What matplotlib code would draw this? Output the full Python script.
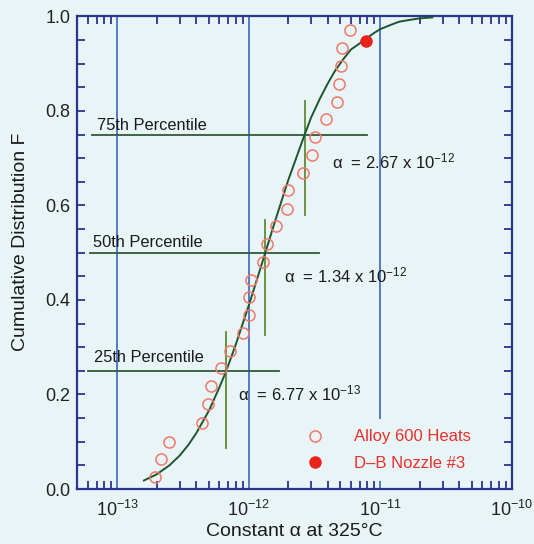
import numpy as np
import matplotlib
matplotlib.use("Agg")
import matplotlib.pyplot as plt
from matplotlib.ticker import FixedLocator, LogLocator, LogFormatterSciNotation, NullFormatter

plt.rcParams["font.family"] = ["Liberation Sans", "DejaVu Sans"]
plt.rcParams["mathtext.fontset"] = "custom"
plt.rcParams["mathtext.rm"] = "Liberation Sans"
plt.rcParams["mathtext.it"] = "Liberation Sans:italic"
plt.rcParams["mathtext.bf"] = "Liberation Sans:bold"

# Alloy 600 heats: constant alpha and cumulative rank
heat_alpha = [1.94e-13, 2.17e-13, 2.50e-13, 4.43e-13, 4.90e-13, 5.20e-13, 6.20e-13,
              7.20e-13, 9.10e-13, 1.01e-12, 1.00e-12, 1.04e-12, 1.29e-12, 1.37e-12,
              1.63e-12, 1.95e-12, 2.00e-12, 2.60e-12, 3.04e-12, 3.20e-12, 3.90e-12,
              4.70e-12, 4.89e-12, 5.02e-12, 5.12e-12, 5.95e-12]
heat_F = [0.025, 0.063, 0.100, 0.140, 0.179, 0.218, 0.256, 0.292, 0.330, 0.368,
          0.406, 0.442, 0.480, 0.518, 0.556, 0.593, 0.632, 0.668, 0.706, 0.744,
          0.782, 0.819, 0.857, 0.895, 0.934, 0.972]

# D-B nozzle #3
nozzle_alpha = [7.79e-12]
nozzle_F = [0.949]

# Fitted cumulative distribution curve
fit_alpha = [1.6e-13, 2.0e-13, 2.5e-13, 3.0e-13, 3.5e-13, 4.0e-13, 5.0e-13, 6.0e-13,
             6.77e-13, 8.0e-13, 1.0e-12, 1.2e-12, 1.34e-12, 1.6e-12, 2.0e-12, 2.67e-12,
             3.0e-12, 3.5e-12, 4.0e-12, 4.5e-12, 5.2e-12, 6.0e-12, 7.0e-12, 8.0e-12,
             9.0e-12, 1.0e-11, 1.2e-11, 1.4e-11, 1.7e-11, 2.0e-11, 2.5e-11]
fit_F = [0.018, 0.031, 0.050, 0.071, 0.094, 0.118, 0.166, 0.215, 0.250, 0.306,
         0.387, 0.457, 0.500, 0.569, 0.653, 0.750, 0.787, 0.827, 0.858, 0.883,
         0.908, 0.930, 0.943, 0.955, 0.965, 0.973, 0.982, 0.989, 0.993, 0.996, 0.998]

# Percentiles of the fitted distribution
pct_levels = [0.25, 0.50, 0.75]
pct_alpha = [6.77e-13, 1.34e-12, 2.67e-12]
pct_names = ["25th Percentile", "50th Percentile", "75th Percentile"]
pct_alpha_text = ["\u03b1  = 6.77 x 10$^{-13}$",
                  "\u03b1  = 1.34 x 10$^{-12}$",
                  "\u03b1  = 2.67 x 10$^{-12}$"]

bg = "#e9f4f7"
navy = "#2a3590"
grid_blue = "#3a64c0"
green_h = "#2f5a38"
green_v = "#5f8a35"
open_red = "#f07868"
solid_red = "#e8231c"

fig = plt.figure(figsize=(5.34, 5.44), dpi=100, facecolor=bg)
ax = fig.add_axes([0.1451, 0.1011, 0.8128, 0.8686], facecolor=bg)

ax.set_xscale("log")
ax.set_xlim(5e-14, 1e-10)
ax.set_ylim(0, 1.0)

# decade grid lines
for d in [1e-13, 1e-12, 1e-11]:
    ax.axvline(d, color=grid_blue, lw=1.2, zorder=1)

# percentile cross-hairs
h_start = [6.0e-14, 6.25e-14, 6.45e-14]
h_end = [1.71e-12, 3.43e-12, 8.0e-12]
v_low = [0.087, 0.325, 0.579]
v_high = [0.333, 0.569, 0.822]
for lvl, a, x0, x1, y0, y1 in zip(pct_levels, pct_alpha, h_start, h_end, v_low, v_high):
    ax.plot([x0, x1], [lvl, lvl], color=green_h, lw=1.3, zorder=2)
    ax.plot([a, a], [y0, y1], color=green_v, lw=1.3, zorder=2)

name_x = [6.73e-14, 6.53e-14, 7.05e-14]
name_y = [0.278, 0.522, 0.769]
for t, x, y in zip(pct_names, name_x, name_y):
    ax.text(x, y, t, fontsize=11.8, ha="left", va="center", color="#1a1a1a", zorder=4)

val_x = [8.34e-13, 1.85e-12, 4.30e-12]
val_y = [0.203, 0.452, 0.694]
for t, x, y in zip(pct_alpha_text, val_x, val_y):
    ax.text(x, y, t, fontsize=12, ha="left", va="center", color="#1a1a1a", zorder=4)

ax.plot(fit_alpha, fit_F, color="#1d5530", lw=1.4, zorder=3)

ax.plot(heat_alpha, heat_F, ls="none", marker="o", ms=8, mfc="none", mec=open_red,
        mew=1.1, zorder=5, label="Alloy 600 Heats")
ax.plot(nozzle_alpha, nozzle_F, ls="none", marker="o", ms=8, mfc=solid_red, mec=solid_red,
        zorder=6, label="D\u2013B Nozzle #3")

leg = ax.legend(loc="lower left", bbox_to_anchor=(0.467, 0.0), frameon=True, fontsize=12,
                handlelength=2.0, handletextpad=1.3, labelspacing=0.68, borderpad=0.6,
                labelcolor="#e8302a", numpoints=1)
leg.get_frame().set_facecolor(bg)
leg.get_frame().set_edgecolor("none")
leg.get_frame().set_alpha(1.0)
leg.set_zorder(4)

# ticks
ax.xaxis.set_major_locator(FixedLocator([1e-13, 1e-12, 1e-11, 1e-10]))
ax.xaxis.set_major_formatter(LogFormatterSciNotation())
ax.xaxis.set_minor_locator(LogLocator(base=10, subs=np.arange(2, 10), numticks=20))
ax.xaxis.set_minor_formatter(NullFormatter())
ax.yaxis.set_major_locator(FixedLocator([0, 0.2, 0.4, 0.6, 0.8, 1.0]))
ax.yaxis.set_minor_locator(FixedLocator(np.arange(0.05, 1.0, 0.05)))
ax.set_yticklabels(["0.0", "0.2", "0.4", "0.6", "0.8", "1.0"])

ax.tick_params(axis="x", which="major", direction="in", length=0, pad=8,
               labelsize=13, colors=navy, labelcolor="#222222")
ax.tick_params(axis="x", which="minor", direction="in", length=6, width=1.3,
               top=True, bottom=True, colors=navy)
ax.tick_params(axis="y", which="both", direction="in", length=6, width=1.3,
               left=True, right=True, colors=navy, labelcolor="#222222")
ax.tick_params(axis="y", which="major", pad=5, labelsize=13)

for s in ax.spines.values():
    s.set_color(navy)
    s.set_linewidth(1.6)

ax.set_xlabel("Constant \u03b1 at 325\u00b0C", fontsize=14, color="#1a1a1a", labelpad=2)
ax.set_ylabel("Cumulative Distribution F", fontsize=14, color="#1a1a1a")
ax.yaxis.set_label_coords(-0.112, 0.524)

fig.savefig("out.png", dpi=100, facecolor=bg)
